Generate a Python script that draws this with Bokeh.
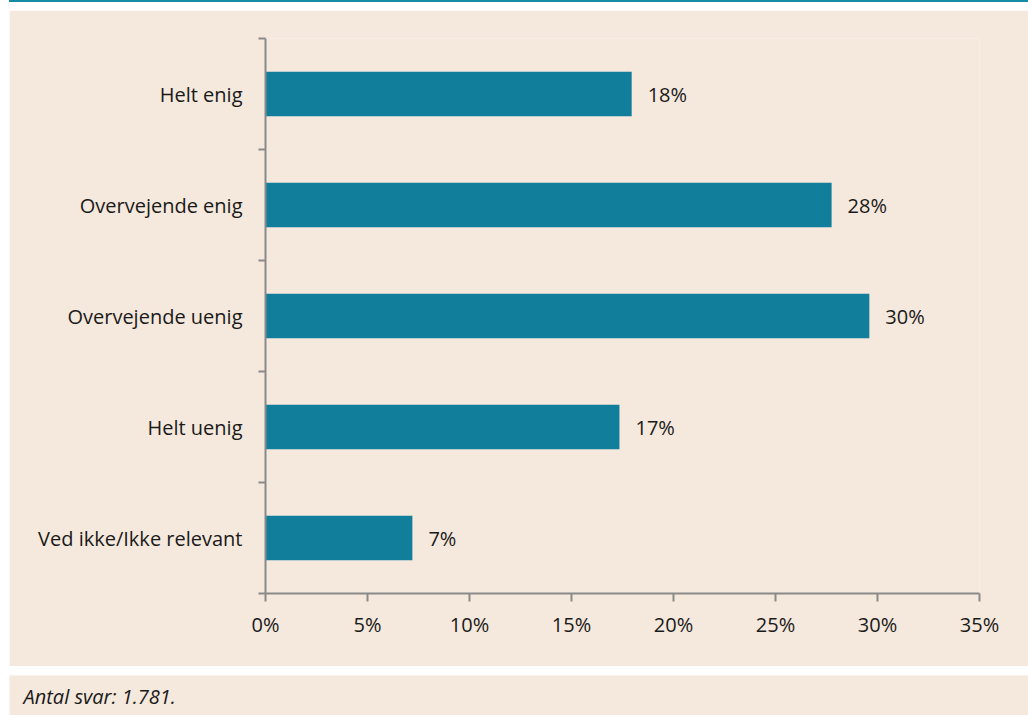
from bokeh.plotting import figure
from bokeh.models import FixedTicker, ColumnDataSource, Label, Div, Range1d
from bokeh.layouts import column
from bokeh.embed import file_html
from bokeh.resources import INLINE
from bokeh.core.properties import value

categories = ["Helt enig", "Overvejende enig", "Overvejende uenig", "Helt uenig", "Ved ikke/Ikke relevant"]
values = [17.95, 27.75, 29.6, 17.35, 7.2]
labels = ["18%", "28%", "30%", "17%", "7%"]
x_ticks = [0, 5, 10, 15, 20, 25, 30, 35]
note = "Antal svar: 1.781."

BG = "#f5e8dc"
BAR = "#117e9b"
AXIS = "#8a8a8a"
TXT = "#1a1a1a"
FONT = "Open Sans"
FS = "20px"

n = len(categories)
ypos = [n - i - 0.5 for i in range(n)]
src = ColumnDataSource(dict(y=ypos, v=values, lab=labels, cat=categories))

p = figure(width=1019, height=656, output_backend="svg", toolbar_location=None,
           x_range=Range1d(0, 35), y_range=Range1d(0, n),
           min_border_left=256, min_border_right=49, min_border_top=28, min_border_bottom=73,
           background_fill_color=BG, border_fill_color=BG, outline_line_color=None,
           margin=(8, 0, 0, 9))
p.hbar(y="y", right="v", left=0, height=0.4, source=src, fill_color=BAR, line_color=None)
p.text(x="v", y="y", text="lab", source=src, x_offset=16, text_baseline="middle",
       text_align="left", text_font=value(FONT), text_font_size=FS, text_color=TXT)

p.xgrid.visible = False
p.ygrid.visible = False

xa = p.xaxis[0]
xa.ticker = FixedTicker(ticks=x_ticks, minor_ticks=[])
xa.major_label_overrides = {t: f"{t}%" for t in x_ticks}
xa.axis_line_color = AXIS
xa.axis_line_width = 2
xa.major_tick_line_color = AXIS
xa.major_tick_line_width = 2
xa.major_tick_in = 0
xa.major_tick_out = 8
xa.minor_tick_line_color = None
xa.major_label_standoff = 9
xa.major_label_text_font = FONT
xa.major_label_text_font_size = FS
xa.major_label_text_color = TXT

ya = p.yaxis[0]
ya.ticker = FixedTicker(ticks=ypos, minor_ticks=list(range(n + 1)))
ya.major_label_overrides = {y: c for y, c in zip(ypos, categories)}
ya.axis_line_color = AXIS
ya.axis_line_width = 2
ya.major_tick_line_color = None
ya.major_tick_in = 0
ya.major_tick_out = 0
ya.minor_tick_line_color = AXIS
ya.minor_tick_line_width = 2
ya.minor_tick_in = 0
ya.minor_tick_out = 7
ya.major_label_standoff = 16
ya.major_label_text_font = FONT
ya.major_label_text_font_size = FS
ya.major_label_text_color = TXT

top = Div(text="", width=1019, height=2, margin=(0, 0, 0, 9),
          styles={"background-color": "#148aa3"})

foot = figure(width=1019, height=40, output_backend="svg", toolbar_location=None,
              x_range=Range1d(0, 1019), y_range=Range1d(0, 40),
              x_axis_location=None, y_axis_location=None,
              min_border=0, background_fill_color=BG, border_fill_color=BG,
              outline_line_color=None, margin=(9, 0, 0, 9))
foot.grid.visible = False
foot.add_layout(Label(x=14, y=19, text=note,
                      text_font=FONT, text_font_size="20px", text_font_style="italic",
                      text_color=TXT, text_baseline="middle"))

layout = column(top, column(p), column(foot), spacing=0)
open("out.html", "w").write(file_html(layout, INLINE))
